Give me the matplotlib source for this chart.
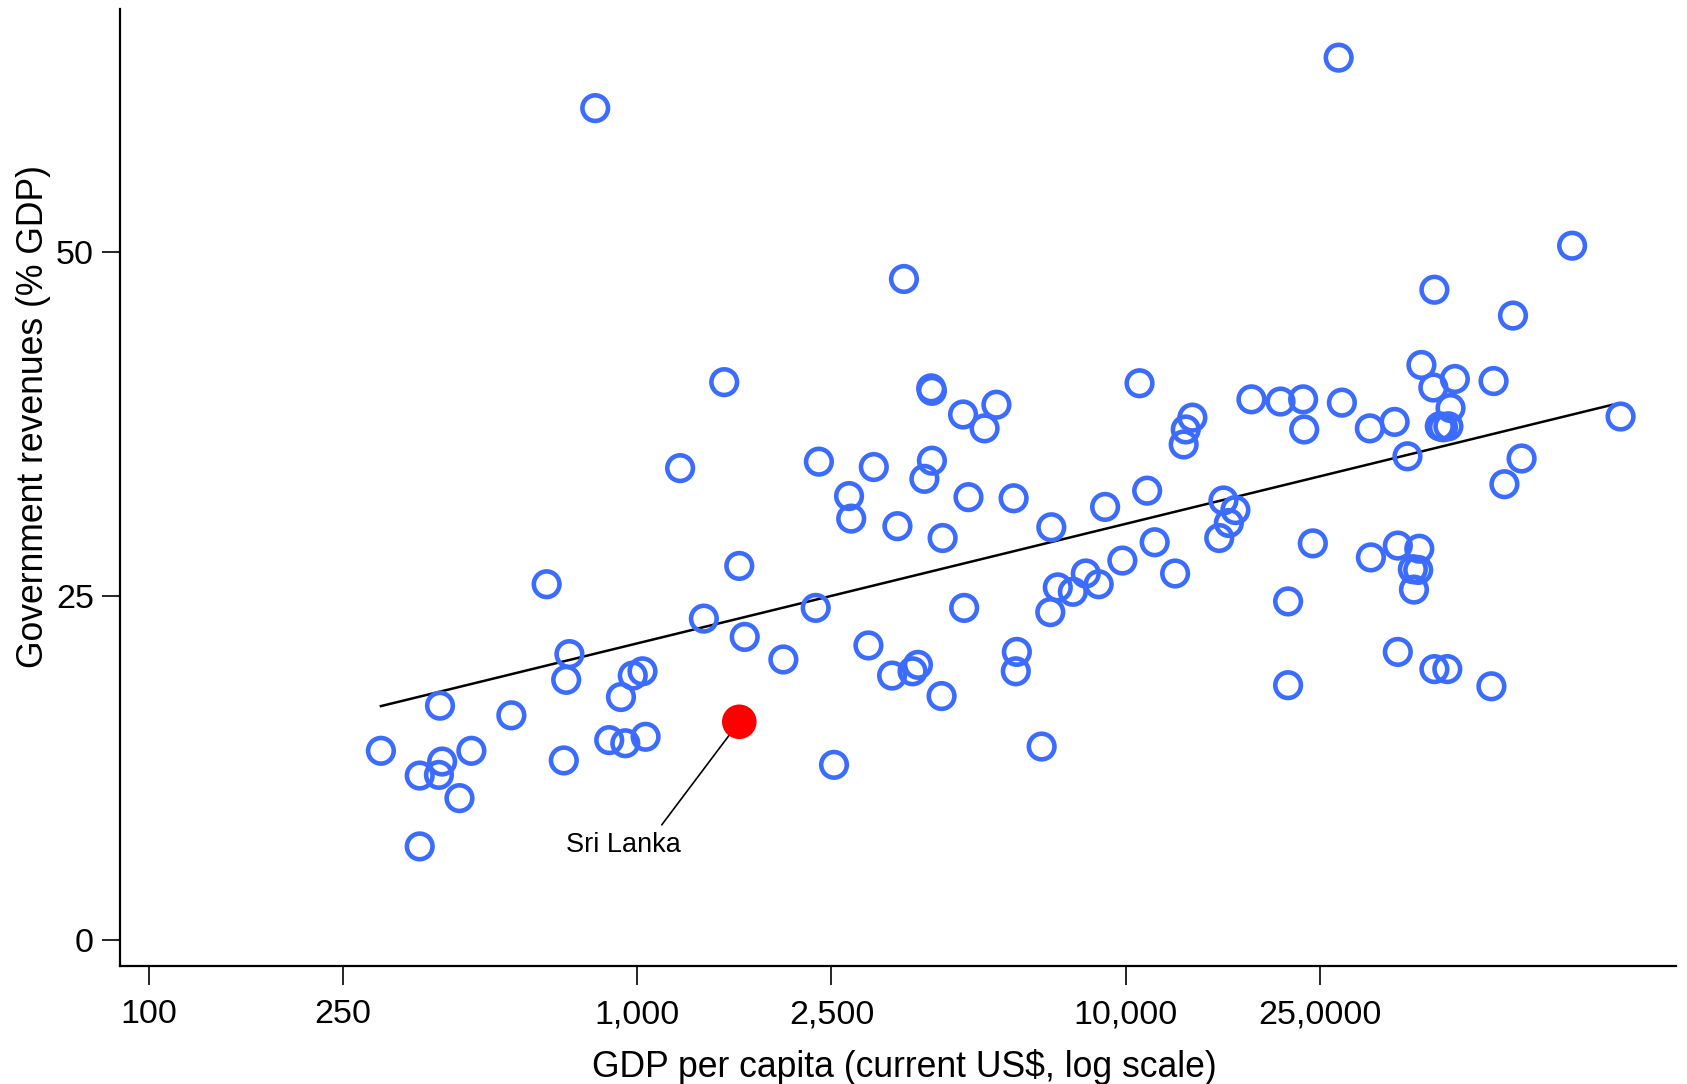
import matplotlib.pyplot as plt
import matplotlib

matplotlib.rcParams['font.family'] = ['Liberation Sans', 'DejaVu Sans']

# GDP per capita (current US$) and government revenues (% GDP)
gdp = [299, 359, 393, 399, 395, 433, 458, 359, 553, 653,
       708, 716, 727, 821, 877, 927, 946, 980, 1026, 1041,
       1225, 1370, 1508, 1619, 1661, 1993, 2321, 2356, 2530, 2716,
       2744, 2976, 3052, 3327, 3412, 3518, 3664, 3758, 3874, 4014,
       4000, 4014, 4201, 4222, 4649, 4673, 4769, 5145, 5440, 5900,
       5960, 5990, 6733, 7013, 7047, 7265, 7800, 8290, 8810, 9080,
       9850, 10680, 11070, 11470, 12630, 13150, 13280, 13700, 15550, 15860,
       16270, 16780, 18100, 20760, 21510, 21510, 23090, 23210, 24170, 27300,
       27720, 31620, 31780, 35540, 36080, 36080, 37760, 38730, 38930, 39720,
       39920, 40330, 42660, 42870, 42870, 43970, 44640, 45560, 45790, 46260,
       47210, 56090, 56660, 59630, 62090, 64660, 82050, 103100]
revenue = [13.75, 11.95, 12.0, 12.97, 17.03, 10.31, 13.75, 6.8, 16.33, 25.86,
           13.05, 18.91, 20.78, 60.47, 14.53, 17.66, 14.3, 19.22, 19.53, 14.77,
           34.3, 23.36, 40.55, 27.19, 22.03, 20.39, 24.14, 34.77, 12.73, 32.27,
           30.63, 21.41, 34.38, 19.22, 30.08, 48.05, 19.53, 20.0, 33.52, 39.92,
           40.1, 34.84, 17.73, 29.22, 38.2, 24.14, 32.19, 37.19, 38.91, 32.11,
           19.53, 20.94, 14.06, 23.83, 30.0, 25.63, 25.31, 26.64, 25.86, 31.48,
           27.58, 40.47, 32.66, 28.91, 26.64, 36.02, 37.11, 37.97, 29.22, 31.95,
           30.31, 31.25, 39.3, 39.14, 24.61, 18.52, 39.3, 37.11, 28.83, 64.14,
           39.06, 37.19, 27.81, 37.66, 28.67, 20.94, 35.16, 26.95, 25.47, 26.9,
           28.44, 41.8, 40.16, 47.27, 19.69, 37.34, 37.27, 19.69, 37.34, 38.67,
           40.78, 18.44, 40.63, 33.13, 45.39, 35.0, 50.47, 38.05]

highlight_name = 'Sri Lanka'
highlight_gdp = 1619
highlight_rev = 15.86
label_gdp = 936
label_rev = 6.9

fit_gdp = [299, 99000]
fit_rev = [17.0, 38.9]

xticks = [100, 250, 1000, 2500, 10000, 25000]
xticklabels = ['100', '250', '1,000', '2,500', '10,000', '25,0000']
yticks = [0, 25, 50]

fig = plt.figure(figsize=(16.87, 10.84), dpi=100)
ax = fig.add_axes([0.0714, 0.1089, 0.9221, 0.8831])

ax.plot(fit_gdp, fit_rev, color='black', linewidth=1.8, zorder=2)
ax.scatter(gdp, revenue, s=340, facecolors='none', edgecolors='#3b6cff',
           linewidths=3.3, zorder=3)
ax.scatter([highlight_gdp], [highlight_rev], s=620, color='#ff0000',
           edgecolors='none', zorder=4)
ax.annotate(highlight_name, xy=(highlight_gdp, highlight_rev),
            xytext=(label_gdp, label_rev), ha='center', va='center',
            fontsize=19.5,
            arrowprops=dict(arrowstyle='-', color='black', linewidth=1.2,
                            relpos=(0.79, 1.0), shrinkA=4, shrinkB=12))

ax.set_xscale('log')
ax.set_xlim(87.6, 133900)
ax.set_ylim(-1.89, 67.7)
ax.set_xticks(xticks)
ax.set_xticklabels(xticklabels)
ax.minorticks_off()
ax.set_yticks(yticks)

ax.spines['top'].set_visible(False)
ax.spines['right'].set_visible(False)
ax.spines['left'].set_linewidth(1.6)
ax.spines['bottom'].set_linewidth(1.6)
ax.tick_params(axis='x', length=14, width=1.2, pad=10, labelsize=24.5)
ax.tick_params(axis='y', length=13, width=1.2, pad=6, labelsize=24.5)

ax.set_xlabel('GDP per capita (current US$, log scale)', fontsize=25.6, va='center')
ax.xaxis.set_label_coords(0.504, -0.106)
ax.set_ylabel('Government revenues (% GDP)', fontsize=25.6, va='center')
ax.yaxis.set_label_coords(-0.056, 0.574)

fig.savefig('out.png', dpi=100)
